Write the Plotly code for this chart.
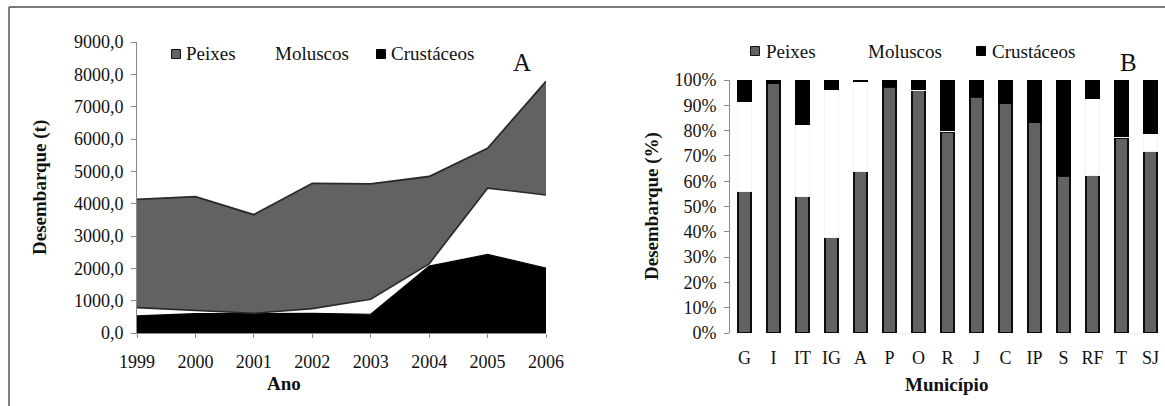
import plotly.graph_objects as go

# Panel A: annual landings (t) by group
anos = [1999, 2000, 2001, 2002, 2003, 2004, 2005, 2006]
peixes_t = [3345, 3515, 3050, 3875, 3565, 2700, 1230, 3510]
moluscos_t = [255, 100, 10, 145, 465, 70, 2050, 2260]
crustaceos_t = [530, 600, 600, 610, 580, 2070, 2430, 2010]

y_ticks_a = [0, 1000, 2000, 3000, 4000, 5000, 6000, 7000, 8000, 9000]
y_ticktext_a = ["0,0", "1000,0", "2000,0", "3000,0", "4000,0", "5000,0",
                "6000,0", "7000,0", "8000,0", "9000,0"]

# Panel B: share (%) of landings by municipality
municipios = ["G", "I", "IT", "IG", "A", "P", "O", "R", "J", "C", "IP", "S", "RF", "T", "SJ"]
peixes_pct = [56.1, 98.7, 54.1, 37.9, 64.0, 97.4, 96.0, 79.6, 93.3, 90.8, 83.4, 62.2, 62.3, 77.2, 71.8]
moluscos_pct = [35.6, 0.0, 28.4, 58.3, 35.5, 0.0, 0.4, 0.4, 0.0, 0.0, 0.0, 0.2, 30.4, 0.4, 7.0]
crustaceos_pct = [8.3, 1.3, 17.5, 3.8, 0.5, 2.6, 3.6, 20.0, 6.7, 9.2, 16.6, 37.6, 7.3, 22.4, 21.2]

y_ticks_b = [0, 10, 20, 30, 40, 50, 60, 70, 80, 90, 100]
y_ticktext_b = [f"{v}%" for v in y_ticks_b]

grupos = ["Peixes", "Moluscos", "Crustáceos"]

W, H = 1165, 406
FONT = "Liberation Serif"
INK = "#111111"
GRAY_FILL = "#626262"
AXIS_COL = "#8a8a8a"


def px_x(p):
    return p / W


def px_y(p):
    return 1 - p / H


fig = go.Figure()

# ---- stacked area (panel A) ----
fig.add_trace(go.Scatter(
    x=anos, y=crustaceos_t, stackgroup="a", mode="lines", name=grupos[2],
    line=dict(color="#000000", width=1.2), fillcolor="#000000",
    xaxis="x", yaxis="y"))
fig.add_trace(go.Scatter(
    x=anos, y=moluscos_t, stackgroup="a", mode="lines", name=grupos[1],
    line=dict(color="#2a2a2a", width=1.6), fillcolor="#ffffff",
    xaxis="x", yaxis="y"))
fig.add_trace(go.Scatter(
    x=anos, y=peixes_t, stackgroup="a", mode="lines", name=grupos[0],
    line=dict(color="#2a2a2a", width=1.8), fillcolor=GRAY_FILL,
    xaxis="x", yaxis="y"))

# ---- stacked bars (panel B) ----
fig.add_trace(go.Bar(
    x=municipios, y=peixes_pct, name=grupos[0], width=0.46,
    marker=dict(color=GRAY_FILL, line=dict(color="#0d0d0d", width=2)),
    xaxis="x2", yaxis="y2"))
fig.add_trace(go.Bar(
    x=municipios, y=moluscos_pct, name=grupos[1], width=0.46,
    marker=dict(color="#ffffff", line=dict(color="#f2f2f2", width=1)),
    xaxis="x2", yaxis="y2"))
fig.add_trace(go.Bar(
    x=municipios, y=crustaceos_pct, name=grupos[2], width=0.46,
    marker=dict(color="#000000", line=dict(color="#000000", width=1)),
    xaxis="x2", yaxis="y2"))

axis_common = dict(showgrid=False, zeroline=False, showline=True, linecolor=AXIS_COL,
                   linewidth=1, ticks="outside", tickcolor=AXIS_COL, ticklen=5,
                   automargin=False,
                   tickfont=dict(family=FONT, size=18, color=INK))

fig.update_layout(
    width=W, height=H,
    margin=dict(l=0, r=0, t=0, b=0, pad=0, autoexpand=False),
    paper_bgcolor="#ffffff", plot_bgcolor="rgba(0,0,0,0)",
    barmode="stack",
    showlegend=False,
    xaxis=dict(axis_common, domain=[px_x(137), px_x(546)], range=[1999, 2006],
               tickvals=anos, ticklen=4, ticklabelstandoff=8, anchor="y"),
    yaxis=dict(axis_common, domain=[px_y(333), px_y(42)], range=[0, 9000],
               tickvals=y_ticks_a, ticktext=y_ticktext_a, anchor="x",
               ticklabelstandoff=4),
    xaxis2=dict(axis_common, domain=[px_x(730), 1.0], range=[-0.5, 14.5],
                type="category", ticks="", showline=False, anchor="y2",
                ticklabelstandoff=12),
    yaxis2=dict(axis_common, domain=[px_y(333), px_y(80)], range=[0, 100],
                tickvals=y_ticks_b, ticktext=y_ticktext_b, anchor="x2",
                ticklabelstandoff=4),
)

# key for each panel: colour swatch + group name
legend_a = {"y": 54, "swatch": [176, 266, 381], "text": [184, 273, 389]}
legend_b = {"y": 51, "swatch": [755, 858, 981], "text": [764, 866, 990]}
swatch_style = [(GRAY_FILL, "#111111"), ("#ffffff", "#ffffff"), ("#000000", "#000000")]
for leg in (legend_a, legend_b):
    for nome, sx, tx, (cor, borda) in zip(grupos, leg["swatch"], leg["text"], swatch_style):
        fig.add_shape(type="rect", xref="paper", yref="paper",
                      x0=px_x(sx - 4.5), x1=px_x(sx + 4.5),
                      y0=px_y(leg["y"] + 4.5), y1=px_y(leg["y"] - 4.5),
                      fillcolor=cor, line=dict(color=borda, width=1))
        fig.add_annotation(xref="paper", yref="paper", showarrow=False, text=nome,
                           x=px_x(tx), y=px_y(leg["y"]), xanchor="left", yanchor="middle",
                           font=dict(family=FONT, size=19, color=INK))

ann = [
    dict(text="<b>Desembarque (t)</b>", x=px_x(40), y=px_y(188), textangle=-90),
    dict(text="<b>Ano</b>", x=px_x(284), y=px_y(383)),
    dict(text="<b>Desembarque (%)</b>", x=px_x(652), y=px_y(206), textangle=-90),
    dict(text="<b>Município</b>", x=px_x(946), y=px_y(384)),
]
for a in ann:
    fig.add_annotation(xref="paper", yref="paper", showarrow=False,
                       xanchor="center", yanchor="middle",
                       font=dict(family=FONT, size=19, color=INK), **a)

fig.add_annotation(xref="paper", yref="paper", showarrow=False, text="A",
                   x=px_x(522), y=px_y(62), xanchor="center", yanchor="middle",
                   font=dict(family=FONT, size=25, color=INK))
fig.add_annotation(xref="paper", yref="paper", showarrow=False, text="B",
                   x=px_x(1128), y=px_y(62), xanchor="center", yanchor="middle",
                   font=dict(family=FONT, size=25, color=INK))

# outer frame (top and left edges)
fig.add_shape(type="line", xref="paper", yref="paper", x0=px_x(9), x1=1.0,
              y0=px_y(7), y1=px_y(7), line=dict(color="#7a7a7a", width=2))
fig.add_shape(type="line", xref="paper", yref="paper", x0=px_x(9), x1=px_x(9),
              y0=px_y(7), y1=0, line=dict(color="#555555", width=1.5))

# page styling: figure flush with the window
page_js = (
    "var r=document.documentElement.style, b=document.body.style;"
    "r.margin='0'; r.padding='0'; r.overflow='hidden';"
    "b.margin='0'; b.padding='0'; b.overflow='hidden';"
)

fig.write_html("out.html", post_script=page_js)
